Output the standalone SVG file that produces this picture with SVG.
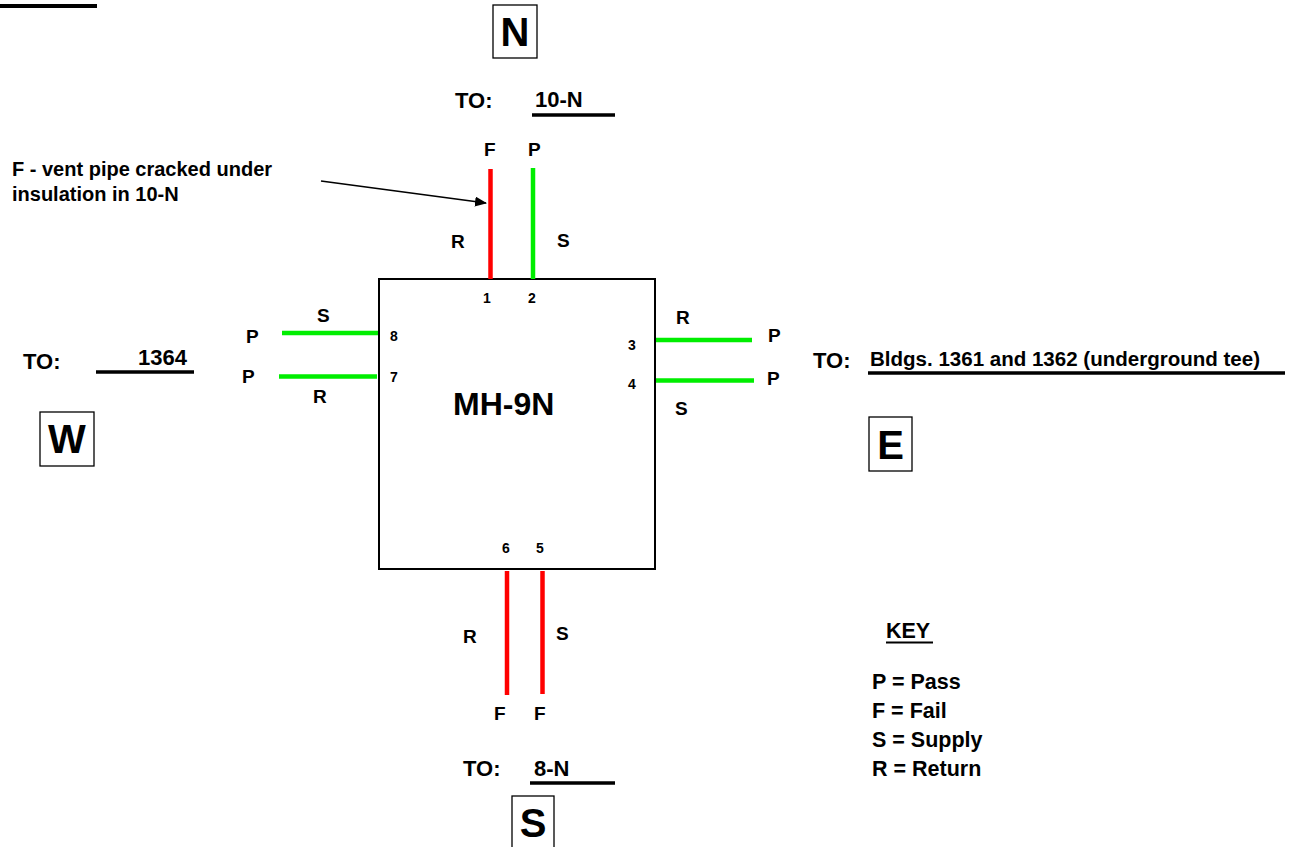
<svg xmlns="http://www.w3.org/2000/svg" width="1293" height="847" viewBox="0 0 1293 847">
<defs>
<style>
text{font-family:"Liberation Sans",Arial,sans-serif;font-weight:bold;fill:#000}
.lbl{font-size:19px}
.num{font-size:14px}
.to{font-size:22px}
.cmp{font-size:40px;text-anchor:middle}
.note{font-size:20px}
.key{font-size:21.5px}
.ul{stroke:#000;stroke-width:3.5}
.frame{fill:#fff;stroke:#000;stroke-width:1.3}
.pass{stroke:#00ee00;stroke-width:4.5}
.fail{stroke:#ff0000;stroke-width:4.5}
</style>
<marker id="ah" markerWidth="12" markerHeight="10" refX="11" refY="5" orient="auto" markerUnits="userSpaceOnUse">
<path d="M0,0 L12,5 L0,10 Z" fill="#000"/>
</marker>
</defs>
<rect width="1293" height="847" fill="#fff"/>
<line x1="0" y1="6" x2="97" y2="6" stroke="#000" stroke-width="4"/>

<g id="manhole">
<rect x="379" y="279" width="276" height="290" fill="#fff" stroke="#000" stroke-width="2"/>
<text x="453" y="415" style="font-size:32px">MH-9N</text>
<text x="483" y="303" class="num">1</text>
<text x="528" y="303" class="num">2</text>
<text x="628" y="350" class="num">3</text>
<text x="628" y="389" class="num">4</text>
<text x="536" y="553" class="num">5</text>
<text x="502" y="553" class="num">6</text>
<text x="390" y="382" class="num">7</text>
<text x="390" y="341" class="num">8</text>
</g>

<g id="compass-n">
<rect x="493" y="5" width="44" height="53" class="frame"/>
<text x="515" y="46" class="cmp">N</text>
</g>
<g id="compass-w">
<rect x="40" y="412" width="54" height="54" class="frame"/>
<text x="67" y="453" class="cmp">W</text>
</g>
<g id="compass-e">
<rect x="869" y="417" width="43" height="54" class="frame"/>
<text x="890.5" y="459" class="cmp">E</text>
</g>
<g id="compass-s">
<rect x="512" y="796" width="42" height="56" class="frame"/>
<text x="533" y="837" class="cmp">S</text>
</g>

<g id="dest-north">
<text x="455" y="108" class="to">TO:</text>
<text x="535" y="107" class="to">10-N</text>
<line x1="532" y1="115" x2="615" y2="115" class="ul"/>
</g>
<g id="dest-west">
<text x="23" y="369" class="to">TO:</text>
<text x="138" y="365" class="to">1364</text>
<line x1="96" y1="372" x2="194" y2="372" class="ul"/>
</g>
<g id="dest-east">
<text x="813" y="368" class="to">TO:</text>
<text x="870" y="366" style="font-size:20px" textLength="390" lengthAdjust="spacingAndGlyphs">Bldgs. 1361 and 1362 (underground tee)</text>
<line x1="868" y1="373" x2="1285" y2="373" class="ul"/>
</g>
<g id="dest-south">
<text x="463" y="776" class="to">TO:</text>
<text x="534" y="776" class="to">8-N</text>
<line x1="530" y1="783" x2="615" y2="783" class="ul"/>
</g>

<g id="pipe-labels">
<text x="484" y="156" class="lbl">F</text>
<text x="528" y="156" class="lbl">P</text>
<text x="451" y="248" class="lbl">R</text>
<text x="557" y="247" class="lbl">S</text>
<text x="317" y="322" class="lbl">S</text>
<text x="246" y="343" class="lbl">P</text>
<text x="242" y="383" class="lbl">P</text>
<text x="313" y="403" class="lbl">R</text>
<text x="676" y="324" class="lbl">R</text>
<text x="768" y="342" class="lbl">P</text>
<text x="767" y="385" class="lbl">P</text>
<text x="675" y="415" class="lbl">S</text>
<text x="463" y="643" class="lbl">R</text>
<text x="556" y="640" class="lbl">S</text>
<text x="494" y="720" class="lbl">F</text>
<text x="534" y="720" class="lbl">F</text>
</g>

<g id="note">
<text x="12" y="176" class="note">F - vent pipe cracked under</text>
<text x="12" y="201" class="note">insulation in 10-N</text>
</g>

<g id="key">
<text x="886" y="638" class="key">KEY</text>
<line x1="886" y1="642.5" x2="933" y2="642.5" stroke="#000" stroke-width="2"/>
<text x="872" y="689" class="key">P = Pass</text>
<text x="872" y="718" class="key">F = Fail</text>
<text x="872" y="747" class="key">S = Supply</text>
<text x="872" y="776" class="key">R = Return</text>
</g>

<g id="connectors">
<line x1="490.5" y1="169" x2="490.5" y2="279" class="fail"/>
<line x1="533" y1="168" x2="533" y2="279" class="pass"/>
<line x1="282" y1="333" x2="378" y2="333" class="pass"/>
<line x1="279" y1="376.5" x2="377" y2="376.5" class="pass"/>
<line x1="656" y1="340" x2="752" y2="340" class="pass"/>
<line x1="656" y1="380.5" x2="754" y2="380.5" class="pass"/>
<line x1="507" y1="571" x2="507" y2="695" class="fail"/>
<line x1="542.5" y1="571" x2="542.5" y2="694" class="fail"/>
<line x1="321" y1="181" x2="486" y2="203" stroke="#000" stroke-width="1.5" marker-end="url(#ah)"/>
</g>
</svg>
